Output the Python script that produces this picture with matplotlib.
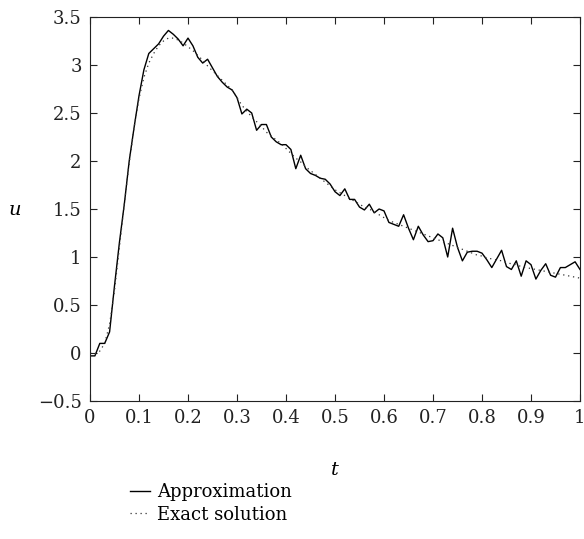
import numpy as np
import matplotlib
matplotlib.use("Agg")
import matplotlib.pyplot as plt

### data
t = np.round(np.arange(0, 101) * 0.01, 2)

u_approx = [-0.03, -0.03, 0.10, 0.10, 0.22, 0.70, 1.15, 1.55, 2.00, 2.35,
            2.68, 2.95, 3.12, 3.17, 3.22, 3.30, 3.36, 3.32, 3.27, 3.20,
            3.28, 3.20, 3.08, 3.02, 3.06, 2.97, 2.88, 2.82, 2.77, 2.74,
            2.66, 2.49, 2.54, 2.50, 2.32, 2.38, 2.38, 2.25, 2.20, 2.17,
            2.17, 2.12, 1.92, 2.06, 1.92, 1.87, 1.85, 1.82, 1.81, 1.76,
            1.68, 1.64, 1.71, 1.60, 1.60, 1.52, 1.49, 1.55, 1.46, 1.50,
            1.48, 1.36, 1.34, 1.32, 1.44, 1.30, 1.18, 1.32, 1.23, 1.16,
            1.17, 1.24, 1.20, 1.00, 1.30, 1.10, 0.96, 1.05, 1.06, 1.06,
            1.04, 0.97, 0.89, 0.98, 1.07, 0.90, 0.87, 0.96, 0.80, 0.96,
            0.92, 0.77, 0.86, 0.93, 0.81, 0.79, 0.89, 0.89, 0.92, 0.95,
            0.87]

u_exact = [0.00, -0.01, 0.02, 0.10, 0.30, 0.65, 1.10, 1.55, 1.98, 2.35,
           2.65, 2.87, 3.02, 3.12, 3.20, 3.25, 3.28, 3.28, 3.26, 3.23,
           3.19, 3.15, 3.10, 3.05, 2.99, 2.94, 2.89, 2.84, 2.79, 2.74,
           2.66, 2.58, 2.52, 2.46, 2.41, 2.36, 2.30, 2.26, 2.22, 2.18,
           2.13, 2.08, 2.03, 1.99, 1.94, 1.90, 1.86, 1.82, 1.78, 1.74,
           1.70, 1.67, 1.64, 1.61, 1.58, 1.55, 1.52, 1.50, 1.47, 1.44,
           1.41, 1.38, 1.36, 1.34, 1.32, 1.30, 1.28, 1.26, 1.24, 1.22,
           1.20, 1.18, 1.16, 1.14, 1.12, 1.10, 1.08, 1.06, 1.04, 1.02,
           1.01, 0.99, 0.98, 0.97, 0.96, 0.94, 0.93, 0.92, 0.90, 0.89,
           0.88, 0.87, 0.86, 0.85, 0.84, 0.83, 0.82, 0.81, 0.80, 0.79,
           0.78]

xticks = np.round(np.arange(0, 11) * 0.1, 1)
xlabels = ['0', '0.1', '0.2', '0.3', '0.4', '0.5', '0.6', '0.7', '0.8', '0.9', '1']
yticks = np.round(np.arange(-1, 8) * 0.5, 1)
ylabels = ['\u22120.5', '0', '0.5', '1', '1.5', '2', '2.5', '3', '3.5']

### figure
plt.rcParams['font.family'] = 'DejaVu Serif'
plt.rcParams['font.size'] = 13

fig = plt.figure(figsize=(5.84, 5.39), dpi=100)
ax = fig.add_axes([90/584, 1 - 401/539, 490/584, 384/539])

ax.plot(t, u_approx, color='black', lw=1.0, label='Approximation')
ax.plot(t, u_exact, color='#333333', lw=0.9, linestyle=(0, (1, 3)),
        label='Exact solution')

ax.set_xlim(0, 1)
ax.set_ylim(-0.5, 3.5)
ax.set_xticks(xticks)
ax.set_xticklabels(xlabels)
ax.set_yticks(yticks)
ax.set_yticklabels(ylabels)
ax.tick_params(direction='in', top=True, right=True, length=5, width=0.8,
               labelsize=13, colors='#222222', pad=6)
for sp in ax.spines.values():
    sp.set_linewidth(0.8)
    sp.set_color('#222222')

fig.text(335/584, 1 - 470/539, 't', style='italic', fontsize=14,
         ha='center', va='center')
fig.text(15/584, 1 - 210/539, 'u', style='italic', fontsize=14,
         ha='center', va='center')

fig.legend(loc='upper left', bbox_to_anchor=(130/584, 1 - 483/539),
           frameon=False, fontsize=13, handlelength=1.1, handletextpad=0.4,
           borderpad=0, borderaxespad=0, labelspacing=0.25)

fig.savefig('out.png', dpi=100)
